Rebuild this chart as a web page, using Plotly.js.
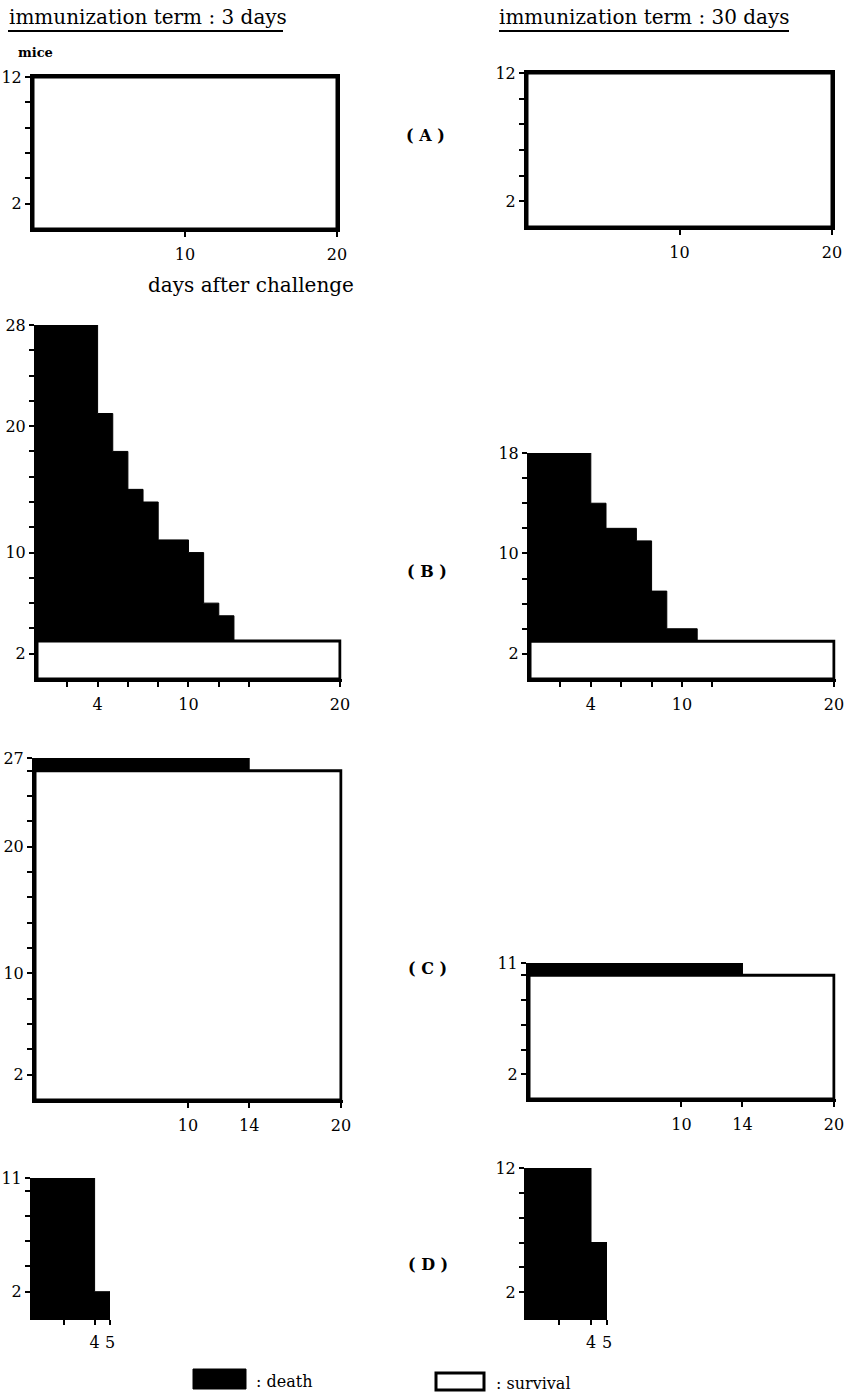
<!DOCTYPE html>
<html><head><meta charset="utf-8">
<script src="https://cdn.plot.ly/plotly-3.0.1.min.js"></script>
<style>html,body{margin:0;padding:0;background:#fff}#chart{width:846px;height:1394px}</style>
</head><body><div id="chart"></div>
<script>
// ---------- data (days at which the number of living mice changes, and mice alive from that day) ----------
const daysA3 = [0];                          const aliveA3 = [12];
const daysA30 = [0];                         const aliveA30 = [12];
const daysB3 = [0, 4, 5, 6, 7, 8, 10, 11, 12, 13]; const aliveB3 = [28, 21, 18, 15, 14, 11, 10, 6, 5, 3];
const daysB30 = [0, 4, 5, 7, 8, 9, 11];      const aliveB30 = [18, 14, 12, 11, 7, 4, 3];
const daysC3 = [0, 14];                      const aliveC3 = [27, 26];
const daysC30 = [0, 14];                     const aliveC30 = [11, 10];
const daysD3 = [0, 4, 5];                    const aliveD3 = [11, 2, 0];
const daysD30 = [0, 4, 5];                   const aliveD30 = [12, 6, 0];
const observationEnd = 20;

// ---------- tick values / labels ----------
const xTicksA = [10, 20];                    const xLabelsA = ['10', '20'];
const xTicksB3 = [2, 4, 6, 8, 10, 12, 14, 20]; const xLabelsB3 = ['', '4', '', '', '10', '', '', '20'];
const xTicksB30 = [2, 4, 6, 8, 10, 12, 20];  const xLabelsB30 = ['', '4', '', '', '10', '', '20'];
const xTicksC = [10, 14, 20];                const xLabelsC = ['10', '14', '20'];
const xTicksD = [2, 4, 5];                   const xLabelsD = ['', '4', '5'];
const yTicksA = [2, 4, 6, 8, 10, 12];        const yLabelsA = ['2', '', '', '', '', '12'];
const yTicksB3 = [2, 4, 6, 8, 10, 12, 14, 16, 18, 20, 22, 24, 26, 28];
const yLabelsB3 = ['2', '', '', '', '10', '', '', '', '', '20', '', '', '', '28'];
const yTicksB30 = [2, 4, 6, 8, 10, 12, 14, 16, 18];
const yLabelsB30 = ['2', '', '', '', '10', '', '', '', '18'];
const yTicksC3 = [2, 4, 6, 8, 10, 12, 14, 16, 18, 20, 22, 24, 26, 27];
const yLabelsC3 = ['2', '', '', '', '10', '', '', '', '', '20', '', '', '', '27'];
const yTicksC30 = [2, 4, 6, 8, 10, 11];      const yLabelsC30 = ['2', '', '', '', '', '11'];
const yTicksD3 = [2, 4, 6, 8, 10, 11];       const yLabelsD3 = ['2', '', '', '', '', '11'];
const yTicksD30 = [2, 4, 6, 8, 10, 12];      const yLabelsD30 = ['2', '', '', '', '', '12'];

// ---------- panel geometry (pixels) ----------
const W = 846, H = 1394;
const panels = [
  {days: daysA3,  alive: aliveA3,  end: observationEnd, box: [33, 337, 77, 229],     xr: [0, 20],   yr: [0, 12], xt: xTicksA,   xl: xLabelsA,   yt: yTicksA,   yl: yLabelsA,   frame: true},
  {days: daysA30, alive: aliveA30, end: observationEnd, box: [527, 832, 73, 227],    xr: [0, 20],   yr: [0, 12], xt: xTicksA,   xl: xLabelsA,   yt: yTicksA,   yl: yLabelsA,   frame: true},
  {days: daysB3,  alive: aliveB3,  end: observationEnd, box: [37, 341.5, 325, 679],  xr: [0, 20.1], yr: [0, 28], xt: xTicksB3,  xl: xLabelsB3,  yt: yTicksB3,  yl: yLabelsB3,  frame: false},
  {days: daysB30, alive: aliveB30, end: observationEnd, box: [530, 835.5, 453, 679], xr: [0, 20.1], yr: [0, 18], xt: xTicksB30, xl: xLabelsB30, yt: yTicksB30, yl: yLabelsB30, frame: false},
  {days: daysC3,  alive: aliveC3,  end: observationEnd, box: [35, 342.5, 758, 1100], xr: [0, 20.1], yr: [0, 27], xt: xTicksC,   xl: xLabelsC,   yt: yTicksC3,  yl: yLabelsC3,  frame: false},
  {days: daysC30, alive: aliveC30, end: observationEnd, box: [529, 835.5, 963, 1099],xr: [0, 20.1], yr: [0, 11], xt: xTicksC,   xl: xLabelsC,   yt: yTicksC30, yl: yLabelsC30, frame: false},
  {days: daysD3,  alive: aliveD3,  end: observationEnd, box: [33, 110, 1178, 1317],  xr: [0, 5],    yr: [0, 11], xt: xTicksD,   xl: xLabelsD,   yt: yTicksD3,  yl: yLabelsD3,  frame: false},
  {days: daysD30, alive: aliveD30, end: observationEnd, box: [527, 607, 1168, 1317], xr: [0, 5],    yr: [0, 12], xt: xTicksD,   xl: xLabelsD,   yt: yTicksD30, yl: yLabelsD30, frame: false}
];

const tickFont = {family: 'DejaVu Serif', size: 16, color: '#000'};
const traces = [];
const layout = {
  width: W, height: H, margin: {l: 0, r: 0, t: 0, b: 0},
  paper_bgcolor: '#fff', plot_bgcolor: 'rgba(0,0,0,0)', showlegend: false,
  annotations: [], shapes: []
};

panels.forEach((p, i) => {
  const n = i === 0 ? '' : String(i + 1);
  const xa = 'x' + n, ya = 'y' + n;
  layout['xaxis' + n] = {
    domain: [p.box[0] / W, p.box[1] / W], range: p.xr, anchor: ya,
    showline: true, linewidth: 3, linecolor: '#000', mirror: p.frame,
    ticks: 'outside', ticklen: 5, tickwidth: 2, tickcolor: '#000',
    tickvals: p.xt, ticktext: p.xl, tickfont: tickFont, ticklabelstandoff: 4,
    showgrid: false, zeroline: false, fixedrange: true
  };
  layout['yaxis' + n] = {
    domain: [1 - p.box[3] / H, 1 - p.box[2] / H], range: p.yr, anchor: xa,
    showline: true, linewidth: 3, linecolor: '#000', mirror: p.frame,
    ticks: 'outside', ticklen: 5, tickwidth: 2, tickcolor: '#000',
    tickvals: p.yt, ticktext: p.yl, tickfont: tickFont,
    showgrid: false, zeroline: false, fixedrange: true
  };
  // death (mice still alive that later die): step function filled black
  traces.push({
    type: 'scatter', mode: 'lines', x: p.days, y: p.alive, xaxis: xa, yaxis: ya,
    line: {shape: 'hv', color: '#000', width: 1}, fill: 'tozeroy', fillcolor: '#000',
    hoverinfo: 'skip'
  });
  // survival: white box up to the number of survivors
  const s = p.alive[p.alive.length - 1];
  if (s > 0) {
    traces.push({
      type: 'scatter', mode: 'lines', xaxis: xa, yaxis: ya,
      x: [0, p.end, p.end, 0, 0], y: [0, 0, s, s, 0],
      fill: 'toself', fillcolor: '#fff', line: {color: '#000', width: 3},
      hoverinfo: 'skip'
    });
  }
});

function ann(text, x, y, size, xanchor, bold) {
  layout.annotations.push({
    text: bold ? '<b>' + text + '</b>' : text, xref: 'paper', yref: 'paper',
    x: x / W, y: 1 - y / H, xanchor: xanchor || 'center', yanchor: 'middle',
    showarrow: false, font: {family: 'DejaVu Serif', size: size, color: '#000'}
  });
}
ann('immunization term : 3 days', 7, 17, 20, 'left');
ann('immunization term : 30 days', 497, 17, 20, 'left');
ann('mice', 16, 53, 13, 'left', true);
ann('days after challenge', 146, 285, 20, 'left');
ann('( A )', 426, 136, 16, 'center', true);
ann('( B )', 427, 571, 16, 'center', true);
ann('( C )', 427, 968, 16, 'center', true);
ann('( D )', 428, 1264, 16, 'center', true);
ann(': death', 254, 1381, 16, 'left');
ann(': survival', 494, 1383, 16, 'left');

function pline(x0, x1, y) {
  layout.shapes.push({type: 'line', xref: 'paper', yref: 'paper', x0: x0 / W, x1: x1 / W, y0: 1 - y / H, y1: 1 - y / H, line: {color: '#000', width: 2}});
}
pline(8, 283, 31);
pline(499, 789, 31);
layout.shapes.push({type: 'rect', xref: 'paper', yref: 'paper', x0: 193 / W, x1: 246 / W, y0: 1 - 1389 / H, y1: 1 - 1369 / H, fillcolor: '#000', line: {color: '#000', width: 1}});
layout.shapes.push({type: 'rect', xref: 'paper', yref: 'paper', x0: 436 / W, x1: 484 / W, y0: 1 - 1390 / H, y1: 1 - 1373 / H, fillcolor: '#fff', line: {color: '#000', width: 3}});

Plotly.newPlot('chart', traces, layout, {staticPlot: true});
</script>
</body></html>
